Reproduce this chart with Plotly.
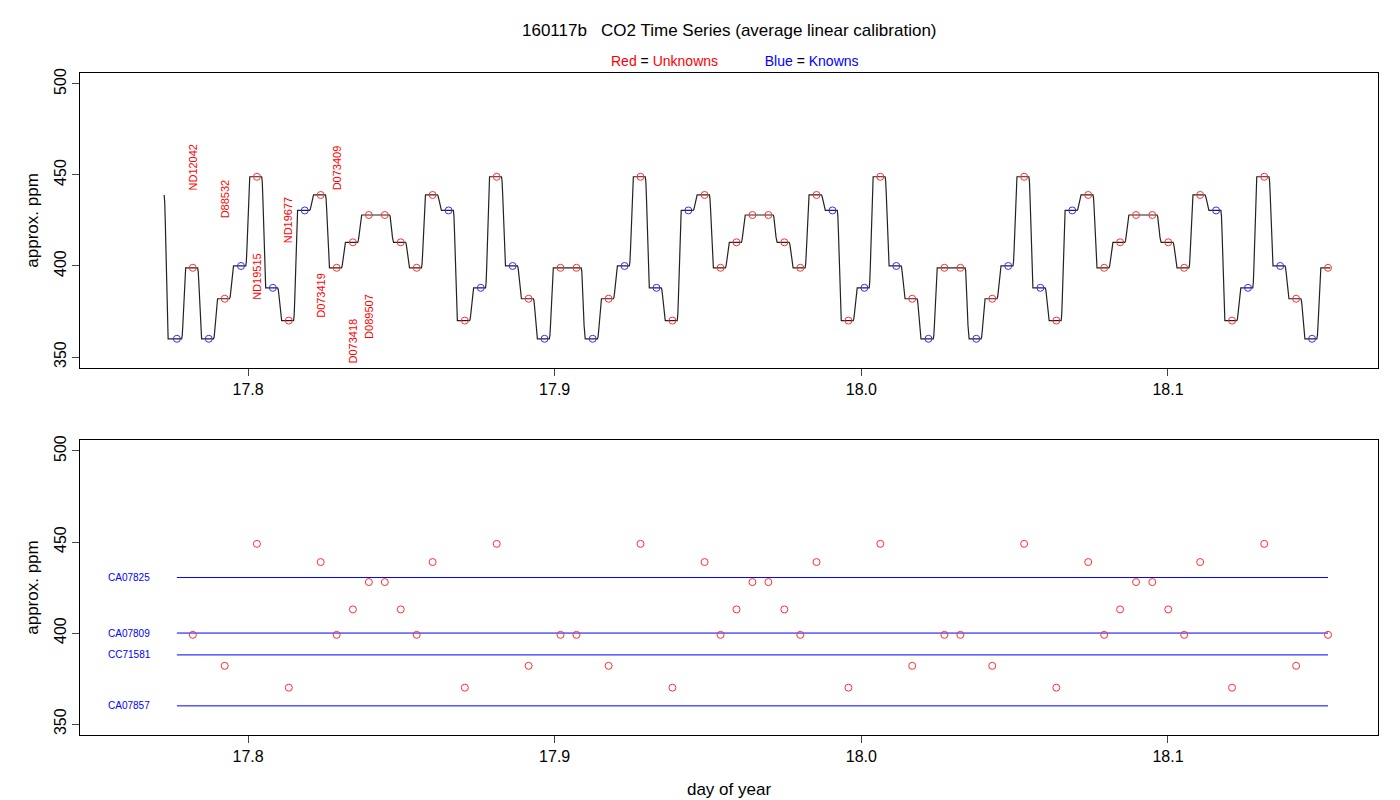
import numpy as np
import plotly.graph_objects as go
from plotly.subplots import make_subplots

# sample times (day of year)
days = [17.7768, 17.7820, 17.7872, 17.7924, 17.7977, 17.8029, 17.8081, 17.8133, 17.8185, 17.8237,
        17.8289, 17.8342, 17.8394, 17.8446, 17.8498, 17.8550, 17.8602, 17.8654, 17.8707, 17.8759,
        17.8811, 17.8863, 17.8915, 17.8967, 17.9019, 17.9071, 17.9124, 17.9176, 17.9228, 17.9280,
        17.9332, 17.9384, 17.9436, 17.9489, 17.9541, 17.9593, 17.9645, 17.9697, 17.9749, 17.9801,
        17.9854, 17.9906, 17.9958, 18.0010, 18.0062, 18.0114, 18.0166, 18.0219, 18.0271, 18.0323,
        18.0375, 18.0427, 18.0479, 18.0531, 18.0584, 18.0636, 18.0688, 18.0740, 18.0792, 18.0844,
        18.0896, 18.0949, 18.1001, 18.1053, 18.1105, 18.1157, 18.1209, 18.1261, 18.1314, 18.1366,
        18.1418, 18.1470, 18.1522]
ppm = [360, 399, 360, 382, 400, 449, 388, 370, 430.5, 439,
       399, 413, 428, 428, 413, 399, 439, 430.5, 370, 388,
       449, 400, 382, 360, 399, 399, 360, 382, 400, 449,
       388, 370, 430.5, 439, 399, 413, 428, 428, 413, 399,
       439, 430.5, 370, 388, 449, 400, 382, 360, 399, 399,
       360, 382, 400, 449, 388, 370, 430.5, 439, 399, 413,
       428, 428, 413, 399, 439, 430.5, 370, 388, 449, 400,
       382, 360, 399]
kind = list("KUKUKUKUKUUUUUUUUKUKUKUKUUKUKUKUKUUUUUUUUKUKUKUKUUKUKUKUKUUUUUUUUKUKUKUKU")
start_level = 439

# unknown labels (index into samples, label y position)
lab_idx = [1, 3, 5, 7, 9, 10, 11, 12]
lab_txt = ["ND12042", "D88532", "ND19515", "ND19677", "D073419", "D073409", "D073418", "D089507"]
lab_y = [454, 437, 394, 425, 384, 454, 359, 372.5]

# known standards
std_names = ["CA07825", "CA07809", "CC71581", "CA07857"]
std_vals = [430.5, 400, 388, 360]

# build smooth step trace from samples
s = days[1] - days[0]
lx, ly = [days[0] - 0.8 * s], [start_level]
prev = start_level
ramp = np.linspace(0, 1, 8)
for i, (t, v) in enumerate(zip(days, ppm)):
    t0 = (days[0] - 0.8 * s) if i == 0 else days[i - 1] + 0.3 * s
    for f in ramp[1:]:
        lx.append(t0 + f * 0.25 * s)
        ly.append(prev + (v - prev) * (1 - np.cos(np.pi * f)) / 2)
    lx.append(t + 0.3 * s if i < len(days) - 1 else t + 0.15 * s)
    ly.append(v)
    prev = v

fig = make_subplots(rows=2, cols=1, vertical_spacing=0.109)
fig.add_trace(go.Scatter(x=lx, y=ly, mode="lines", line=dict(color="#222222", width=1.2)), 1, 1)
col = ["#3030FF" if k == "K" else "#FF3030" for k in kind]
fig.add_trace(go.Scatter(x=days, y=ppm, mode="markers",
                         marker=dict(symbol="circle-open", size=7, color=col, line=dict(width=1, color=col))), 1, 1)
for i, t, y in zip(lab_idx, lab_txt, lab_y):
    fig.add_annotation(x=days[i], y=y, text=t, textangle=-90, showarrow=False,
                       font=dict(color="#FF0000", size=11), xref="x", yref="y")

for name, v in zip(std_names, std_vals):
    fig.add_trace(go.Scatter(x=[days[0], days[-1]], y=[v, v], mode="lines",
                             line=dict(color="#0000FF", width=1)), 2, 1)
    fig.add_annotation(x=17.7613, y=v, text=name, showarrow=False, xref="x2", yref="y2",
                       font=dict(color="#0000FF", size=10))
ud = [d for d, k in zip(days, kind) if k == "U"]
up = [p for p, k in zip(ppm, kind) if k == "U"]
fig.add_trace(go.Scatter(x=ud, y=up, mode="markers",
                         marker=dict(symbol="circle-open", size=7, color="#FF3030",
                                     line=dict(width=1, color="#FF3030"))), 2, 1)

ax = dict(range=[17.7452, 18.1685], tickvals=[17.8, 17.9, 18.0, 18.1],
          ticktext=["17.8", "17.9", "18.0", "18.1"], ticks="outside", ticklen=7,
          showgrid=False, zeroline=False, showline=True, mirror=True, linecolor="black",
          tickfont=dict(size=16), automargin=False)
ay = dict(range=[344, 506], tickvals=[350, 400, 450, 500], ticks="outside", ticklen=7,
          tickangle=-90, showgrid=False, zeroline=False, showline=True, mirror=True,
          linecolor="black", tickfont=dict(size=16), automargin=False,
          title=dict(text="approx. ppm", font=dict(size=17), standoff=8))
fig.update_xaxes(**ax)
fig.update_yaxes(**ay)
fig.update_xaxes(title=dict(text="day of year", font=dict(size=17), standoff=18), row=2, col=1)

fig.add_annotation(x=0.5, y=1.0, xref="paper", yref="paper", yshift=43, yanchor="middle",
                   showarrow=False,
                   text="160117b   CO2 Time Series (average linear calibration)",
                   font=dict(size=17, color="black"))
fig.add_annotation(x=0.505, y=1.0, xref="paper", yref="paper", yshift=12, yanchor="middle",
                   showarrow=False,
                   text="<span style='color:red'>Red</span> = <span style='color:red'>Unknowns</span>"
                        "            <span style='color:blue'>Blue</span> = <span style='color:blue'>Knowns</span>",
                   font=dict(size=14, color="black"))

fig.update_layout(width=1400, height=800, showlegend=False, plot_bgcolor="white",
                  paper_bgcolor="white", margin=dict(l=72, r=30, t=65, b=73, autoexpand=False),
                  font=dict(family="Liberation Sans, Arial", color="black"))
fig.write_html("out.html")
